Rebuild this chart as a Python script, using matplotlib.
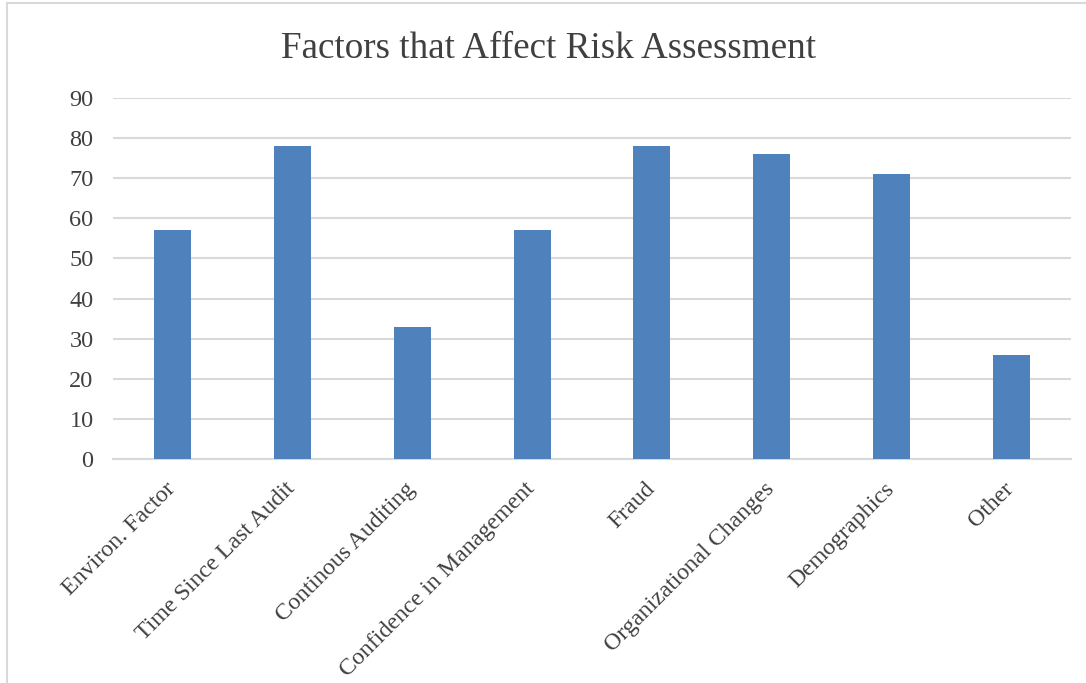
import matplotlib
matplotlib.use("Agg")
import matplotlib.pyplot as plt
from matplotlib.patches import Rectangle
from matplotlib.transforms import ScaledTranslation

categories = ["Environ. Factor", "Time Since Last Audit", "Continous Auditing",
              "Confidence in Management", "Fraud", "Organizational Changes",
              "Demographics", "Other"]
values = [57, 78, 33, 57, 78, 76, 71, 26]
yticks = [0, 10, 20, 30, 40, 50, 60, 70, 80, 90]
title = "Factors that Affect Risk Assessment"

W, H = 1086, 683
plt.rcParams['font.family'] = ['Liberation Serif', 'DejaVu Serif']
fig = plt.figure(figsize=(W / 100, H / 100), dpi=100)
fig.patch.set_facecolor('white')

# outer chart border (left and top visible)
fig.add_artist(Rectangle((7 / W, -0.1), 1.2, (H - 3) / H + 0.1,
                         transform=fig.transFigure, fill=False,
                         edgecolor='#D9D9D9', linewidth=1.5))

left, right = 113 / W, 1071 / W
bottom, top = 1 - 459 / H, 1 - 98 / H
ax = fig.add_axes([left, bottom, right - left, top - bottom])

x = list(range(len(categories)))
ax.bar(x, values, width=0.31, color='#4F81BD', zorder=3)
ax.set_xlim(-0.5, len(categories) - 0.5)
ax.set_ylim(0, 90)
ax.set_yticks(yticks)
ax.set_yticklabels([str(v) for v in yticks], fontsize=17.5, color='#404040')
ax.set_xticks(x)
ax.set_xticklabels(categories, fontsize=17.2, color='#404040', rotation=45,
                   ha='right', va='top', rotation_mode='anchor')
ax.tick_params(axis='both', length=0)
ax.tick_params(axis='x', pad=14)
ax.tick_params(axis='y', pad=14)
off = ScaledTranslation(-8 / 100, 0, fig.dpi_scale_trans)
for lab in ax.get_xticklabels():
    lab.set_transform(lab.get_transform() + off)
for s in ['top', 'right', 'left']:
    ax.spines[s].set_visible(False)
ax.spines['bottom'].set_color('#D9D9D9')
ax.spines['bottom'].set_linewidth(1.5)
ax.grid(axis='y', color='#D9D9D9', linewidth=1.5, zorder=0)
ax.set_axisbelow(True)

fig.text(549 / W, 1 - 49 / H, title, ha='center', va='center',
         fontsize=26.7, color='#404040')

fig.savefig('out.png', dpi=100, facecolor='white')
